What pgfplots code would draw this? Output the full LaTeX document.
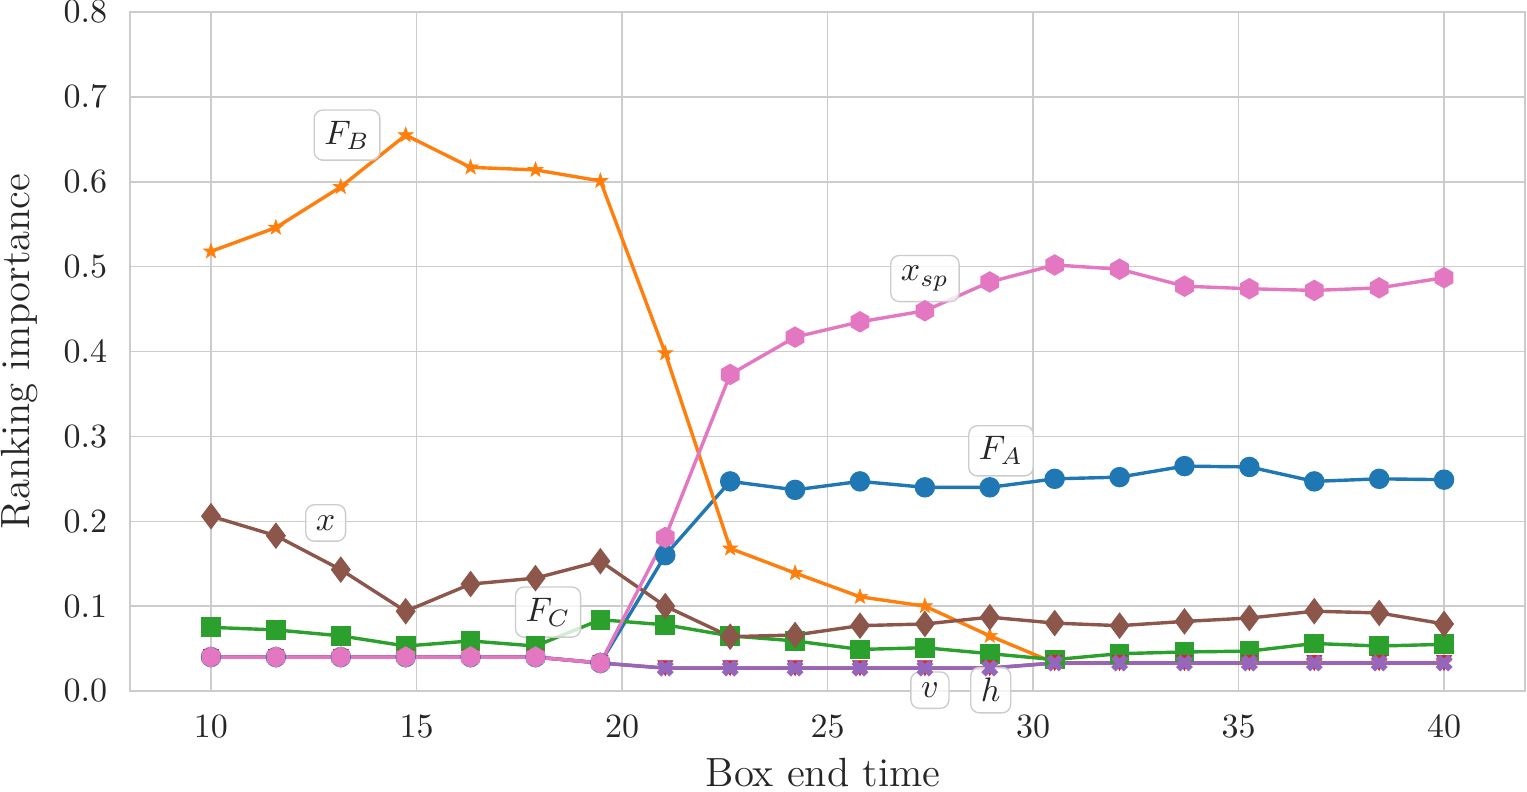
\documentclass[border=0pt]{standalone}
\usepackage{pgfplots}
\usepackage{pgfplotstable}
\pgfplotsset{compat=1.18}

\definecolor{tabblue}{HTML}{1F77B4}
\definecolor{taborange}{HTML}{FF7F0E}
\definecolor{tabgreen}{HTML}{2CA02C}
\definecolor{tabred}{HTML}{D62728}
\definecolor{tabpurple}{HTML}{9467BD}
\definecolor{tabbrown}{HTML}{8C564B}
\definecolor{tabpink}{HTML}{E377C2}
\definecolor{gridgray}{HTML}{CCCCCC}
\definecolor{textgray}{HTML}{262626}

\tikzset{annot/.style={draw=gridgray, line width=0.4pt, fill=white, fill opacity=0.8,
    text opacity=1, rounded corners=2.5pt, inner xsep=3pt, inner ysep=3.2pt,
    font=\fontsize{10}{12}\selectfont, text=textgray}}

% filled hexagon, vertex on top
\pgfdeclareplotmark{hexagon*}{%
  \pgfpathmoveto{\pgfqpointpolar{90}{\pgfplotmarksize}}%
  \pgfpathlineto{\pgfqpointpolar{150}{\pgfplotmarksize}}%
  \pgfpathlineto{\pgfqpointpolar{210}{\pgfplotmarksize}}%
  \pgfpathlineto{\pgfqpointpolar{270}{\pgfplotmarksize}}%
  \pgfpathlineto{\pgfqpointpolar{330}{\pgfplotmarksize}}%
  \pgfpathlineto{\pgfqpointpolar{30}{\pgfplotmarksize}}%
  \pgfpathclose
  \pgfusepathqfillstroke}

% filled five-pointed star
\pgfdeclareplotmark{fstar}{%
  \pgfpathmoveto{\pgfqpointpolar{90}{\pgfplotmarksize}}%
  \pgfpathlineto{\pgfqpointpolar{126}{0.40\pgfplotmarksize}}%
  \pgfpathlineto{\pgfqpointpolar{162}{\pgfplotmarksize}}%
  \pgfpathlineto{\pgfqpointpolar{198}{0.40\pgfplotmarksize}}%
  \pgfpathlineto{\pgfqpointpolar{234}{\pgfplotmarksize}}%
  \pgfpathlineto{\pgfqpointpolar{270}{0.40\pgfplotmarksize}}%
  \pgfpathlineto{\pgfqpointpolar{306}{\pgfplotmarksize}}%
  \pgfpathlineto{\pgfqpointpolar{342}{0.40\pgfplotmarksize}}%
  \pgfpathlineto{\pgfqpointpolar{18}{\pgfplotmarksize}}%
  \pgfpathlineto{\pgfqpointpolar{54}{0.40\pgfplotmarksize}}%
  \pgfpathclose
  \pgfusepathqfillstroke}

% downward triangle, flat edge on top
\pgfdeclareplotmark{tridown}{%
  \pgfpathmoveto{\pgfqpoint{-\pgfplotmarksize}{\pgfplotmarksize}}%
  \pgfpathlineto{\pgfqpoint{\pgfplotmarksize}{\pgfplotmarksize}}%
  \pgfpathlineto{\pgfqpoint{0pt}{-\pgfplotmarksize}}%
  \pgfpathclose
  \pgfusepathqfillstroke}

% filled X
\pgfdeclareplotmark{Xfill}{%
  \pgfpathmoveto{\pgfqpoint{-0.495\pgfplotmarksize}{0.919\pgfplotmarksize}}%
  \pgfpathlineto{\pgfqpoint{0pt}{0.424\pgfplotmarksize}}%
  \pgfpathlineto{\pgfqpoint{0.495\pgfplotmarksize}{0.919\pgfplotmarksize}}%
  \pgfpathlineto{\pgfqpoint{0.919\pgfplotmarksize}{0.495\pgfplotmarksize}}%
  \pgfpathlineto{\pgfqpoint{0.424\pgfplotmarksize}{0pt}}%
  \pgfpathlineto{\pgfqpoint{0.919\pgfplotmarksize}{-0.495\pgfplotmarksize}}%
  \pgfpathlineto{\pgfqpoint{0.495\pgfplotmarksize}{-0.919\pgfplotmarksize}}%
  \pgfpathlineto{\pgfqpoint{0pt}{-0.424\pgfplotmarksize}}%
  \pgfpathlineto{\pgfqpoint{-0.495\pgfplotmarksize}{-0.919\pgfplotmarksize}}%
  \pgfpathlineto{\pgfqpoint{-0.919\pgfplotmarksize}{-0.495\pgfplotmarksize}}%
  \pgfpathlineto{\pgfqpoint{-0.424\pgfplotmarksize}{0pt}}%
  \pgfpathlineto{\pgfqpoint{-0.919\pgfplotmarksize}{0.495\pgfplotmarksize}}%
  \pgfpathclose
  \pgfusepathqfillstroke}

% ranking importance of each feature against the box end time
\pgfplotstableread{
t        FA     FB     FC     v      h      xp     xsp
10.0000  0.040  0.518  0.075  0.040  0.040  0.206  0.040
11.5789  0.040  0.546  0.072  0.040  0.040  0.183  0.040
13.1579  0.040  0.594  0.065  0.040  0.040  0.143  0.040
14.7368  0.040  0.655  0.053  0.040  0.040  0.094  0.040
16.3158  0.040  0.617  0.059  0.040  0.040  0.126  0.040
17.8947  0.040  0.614  0.053  0.040  0.040  0.133  0.040
19.4737  0.033  0.601  0.084  0.033  0.033  0.153  0.033
21.0526  0.160  0.398  0.078  0.027  0.027  0.100  0.181
22.6316  0.247  0.168  0.065  0.027  0.027  0.064  0.373
24.2105  0.237  0.139  0.059  0.027  0.027  0.066  0.417
25.7895  0.247  0.111  0.049  0.027  0.027  0.077  0.435
27.3684  0.240  0.100  0.051  0.027  0.027  0.079  0.448
28.9474  0.240  0.065  0.044  0.027  0.027  0.087  0.482
30.5263  0.250  0.033  0.037  0.033  0.033  0.080  0.502
32.1053  0.252  0.033  0.044  0.033  0.033  0.077  0.497
33.6842  0.265  0.033  0.046  0.033  0.033  0.082  0.477
35.2632  0.264  0.033  0.047  0.033  0.033  0.086  0.474
36.8421  0.247  0.033  0.056  0.033  0.033  0.094  0.472
38.4211  0.250  0.033  0.053  0.033  0.033  0.092  0.475
40.0000  0.249  0.033  0.055  0.033  0.033  0.079  0.487
}\ranktable

\begin{document}
\begin{tikzpicture}
\begin{axis}[
  scale only axis,
  width=410.3pt, height=199.7pt,
  xmin=8.03, xmax=41.97,
  ymin=0, ymax=0.8,
  xtick={10,15,20,25,30,35,40},
  ytick={0,0.1,0.2,0.3,0.4,0.5,0.6,0.7,0.8},
  yticklabel style={xshift=-3.2pt, /pgf/number format/fixed,
    /pgf/number format/fixed zerofill, /pgf/number format/precision=1},
  xticklabel style={yshift=-3.7pt},
  tick label style={font=\fontsize{10}{12}\selectfont, text=textgray},
  grid=major,
  major grid style={color=gridgray, line width=0.45pt},
  axis line style={color=gridgray, line width=0.45pt},
  tick style={draw=none},
  xlabel={Box end time},
  ylabel={Ranking importance},
  label style={font=\fontsize{12}{14}\selectfont, text=textgray},
  xlabel style={at={(axis description cs:0.4968,-0.141)}, anchor=base},
  ylabel style={at={(axis description cs:-0.0789,0.5)}, anchor=center},
  clip=false,
  every axis plot/.append style={line width=1pt},
]
\addplot[color=tabblue, mark=*, mark size=2.5pt, mark options={solid, fill=tabblue}]
  table[x=t, y=FA] {\ranktable};
\addplot[color=taborange, mark=fstar, mark size=2.3pt, mark options={solid, fill=taborange, line width=0.2pt}]
  table[x=t, y=FB] {\ranktable};
\addplot[color=tabgreen, mark=square*, mark size=2.4pt, mark options={solid, fill=tabgreen}]
  table[x=t, y=FC] {\ranktable};
\addplot[color=tabred, mark=tridown, mark size=2.2pt, mark options={solid, fill=tabred, line width=0.2pt}]
  table[x=t, y=v] {\ranktable};
\addplot[color=tabpurple, mark=Xfill, mark size=2.4pt, mark options={solid, fill=tabpurple, line width=0.4pt}]
  table[x=t, y=h] {\ranktable};
\addplot[color=tabbrown, mark=diamond*, mark size=3.1pt, mark options={solid, fill=tabbrown}]
  table[x=t, y=xp] {\ranktable};
\addplot[color=tabpink, mark=hexagon*, mark size=2.6pt, mark options={solid, fill=tabpink}]
  table[x=t, y=xsp] {\ranktable};

\node[annot] at (axis cs:13.31,0.655) {$F_B$};
\node[annot] at (axis cs:27.37,0.486) {$x_{sp}$};
\node[annot] at (axis cs:29.22,0.283) {$F_A$};
\node[annot] at (axis cs:12.79,0.198) {$x$};
\node[annot] at (axis cs:18.20,0.093) {$F_C$};
\node[annot] at (axis cs:27.49,0.001) {$v$};
\node[annot] at (axis cs:28.97,0.001) {$h$};
\end{axis}
\pgfresetboundingbox
\useasboundingbox (-38.24pt,-29.41pt) rectangle (410.88pt,203.24pt);
\end{tikzpicture}
\end{document}
